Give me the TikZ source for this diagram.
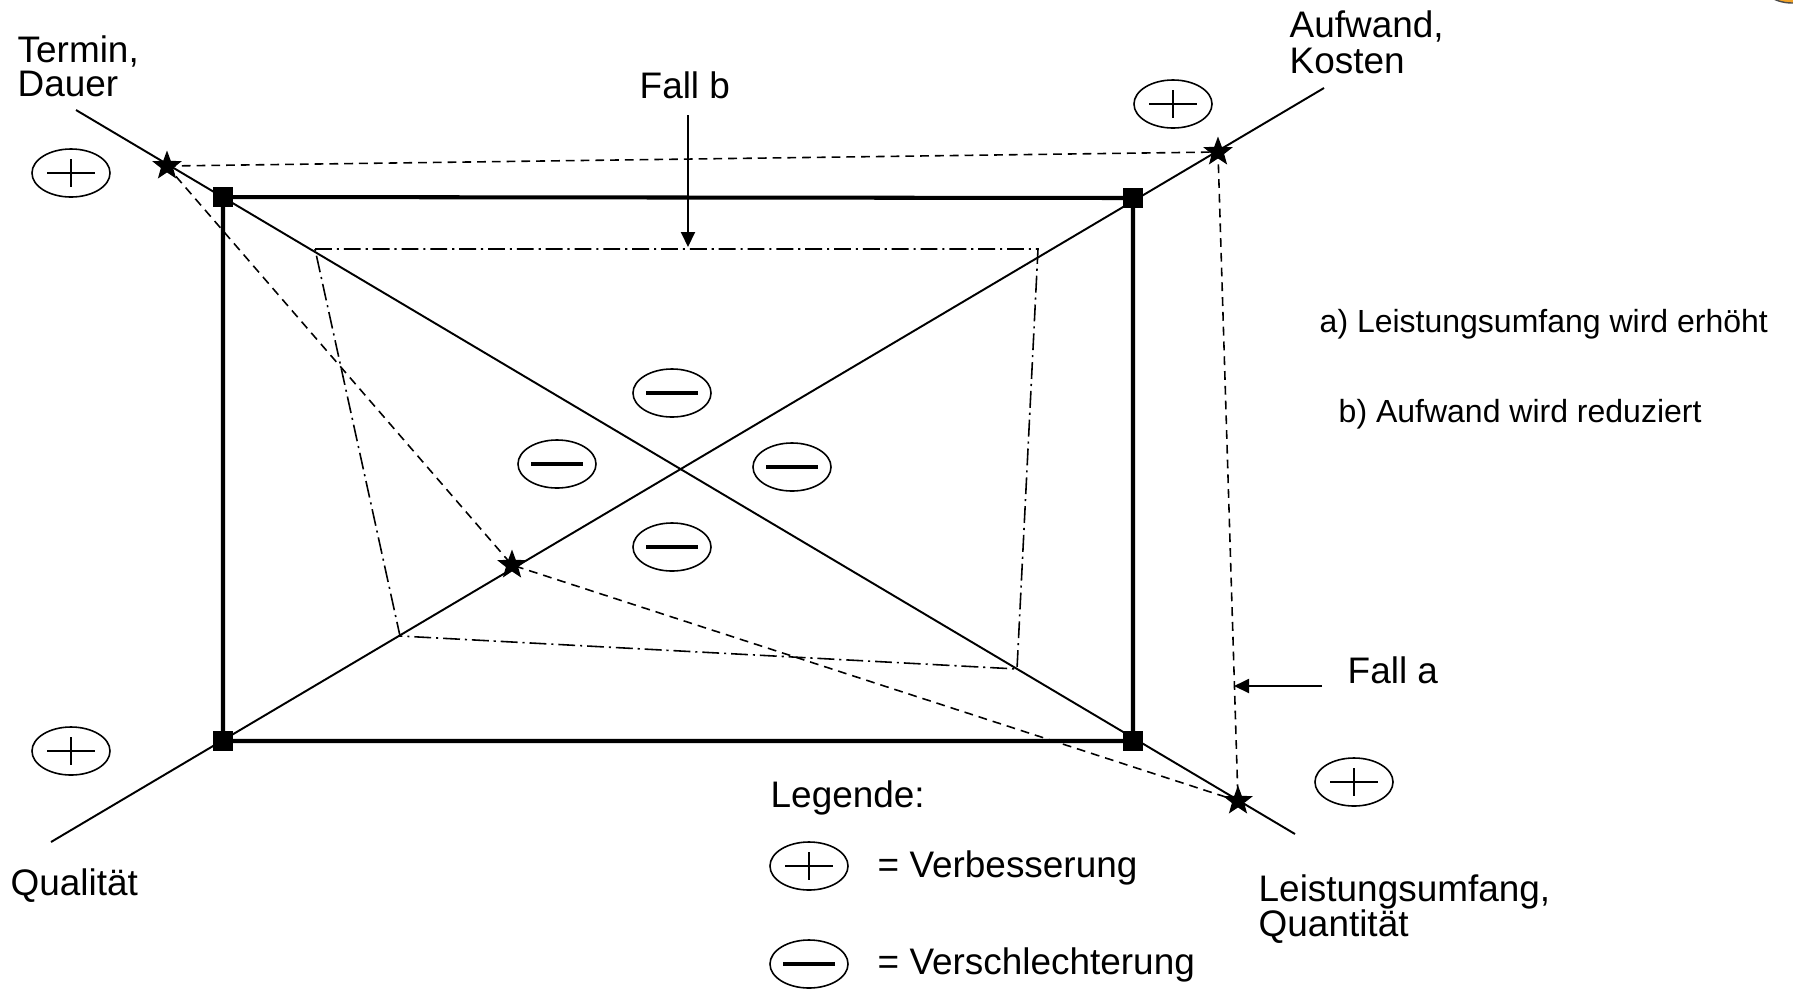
\documentclass[tikz,border=0pt]{standalone}
\usepackage{fontspec}
\setmainfont{Liberation Sans}
\usetikzlibrary{calc}
\usetikzlibrary{arrows.meta}
\usetikzlibrary{positioning}
\usetikzlibrary{shapes.geometric}
\definecolor{sunflower}{RGB}{243, 164, 40}

\tikzset{
  lbl/.style={anchor=base west, inner sep=0pt, font=\fontsize{10.5}{10}\selectfont},
  note/.style={anchor=base west, inner sep=0pt, font=\fontsize{9.1}{9}\selectfont},
  corner/.style={fill=black, minimum size=0.2cm, inner sep=0pt},
  pstar/.style={star, star points=5, star point ratio=2.4, fill=black, minimum size=0.31cm, inner sep=0pt},
  sign/.style={draw, ellipse, line width=0.45pt, minimum width=0.78cm, minimum height=0.48cm, inner sep=0pt},
  better/.style={sign, path picture={\draw[line width=0.4pt] ($(path picture bounding box.center)+(-24,0)$) -- ++(48,0)
                                       ($(path picture bounding box.center)+(0,-14)$) -- ++(0,28);}},
  worse/.style={sign, path picture={\draw[line width=1.2pt] ($(path picture bounding box.center)+(-26,0)$) -- ++(52,0);}},
  axis/.style={line width=0.55pt},
  frame/.style={line width=1.15pt},
  dashline/.style={line width=0.45pt, dash pattern=on 2.5pt off 1.7pt},
  dotline/.style={line width=0.45pt, dash pattern=on 4.8pt off 1.4pt on 0.6pt off 1.4pt},
  pointer/.style={line width=0.55pt, -{Triangle[length=0.15cm, width=0.14cm]}},
}

\begin{document}
\begin{tikzpicture}[x=0.01cm, y=-0.01cm]
            \useasboundingbox (0,0) rectangle (1793,990);
            \filldraw[draw=black!70, fill=sunflower] (1792,-26) ellipse (36 and 29);
            % axes
            \coordinate (tA) at (76,110);
            \coordinate (lE) at (1295,834);
            \coordinate (qA) at (51,842);
            \coordinate (kE) at (1324,88);
            \draw[axis] (tA) -- (lE);
            \draw[axis] (qA) -- (kE);
            % frame
            \node[corner] (ctl) at ( 223,197) {};
            \node[corner] (ctr) at (1133,198) {};
            \node[corner] (cbr) at (1133,741) {};
            \node[corner] (cbl) at ( 223,741) {};
            \draw[frame] (ctl.center) -- (ctr.center) -- (cbr.center) -- (cbl.center) -- cycle;
            % Fall b
            \coordinate (bA) at ( 315,249);
            \coordinate (bB) at (1038,249);
            \coordinate (bC) at (1017,669);
            \coordinate (bD) at ( 400,636);
            \draw[dotline] (bA) -- (bB) -- (bC) -- (bD) -- cycle;
            % Fall a
            \node[pstar] (s1) at ( 167,166) {};
            \node[pstar] (s2) at (1218,152) {};
            \node[pstar] (s4) at (1238,801) {};
            \node[pstar] (s3) at ( 512,565) {};
            \draw[dashline] (s1.center) -- (s2.center) -- (s4.center) -- (s3.center) -- (s1.center);
            % pointers
            \coordinate (fb)  at ( 688,115);
            \coordinate (fbT) at ( 688,247);
            \draw[pointer] (fb) -- (fbT);
            \coordinate (fa)  at (1322,686);
            \coordinate (faT) at (1234,686);
            \draw[pointer] (fa) -- (faT);
            % plus / minus
            \node[better] (pT) at (  71,173) {};
            \node[better] (pQ) at (  71,751) {};
            \node[better] (pK) at (1173,104) {};
            \node[better] (pL) at (1354,782) {};
            \node[worse]  (mN) at ( 672,393) {};
            \node[worse]  (mW) at ( 557,464) {};
            \node[worse]  (mE) at ( 792,467) {};
            \node[worse]  (mS) at ( 672,547) {};
            % labels
            \node[lbl] (t1) at (  17, 62) {Termin,};
            \node[lbl] (t2) at (  17, 96) {Dauer};
            \node[lbl] (k1) at (1289, 37) {Aufwand,};
            \node[lbl] (k2) at (1289, 73) {Kosten};
            \node[lbl] (ql) at (  10,895) {Qualität};
            \node[lbl] (l1) at (1258,901) {Leistungsumfang,};
            \node[lbl] (l2) at (1258,936) {Quantität};
            \node[lbl] (fbl) at ( 639, 98) {Fall b};
            \node[lbl] (fal) at (1347,683) {Fall a};
            \node[note] (na) at (1319,332) {a) Leistungsumfang wird erhöht};
            \node[note] (nb) at (1338,422) {b) Aufwand wird reduziert};
            % legend
            \node[lbl] (lg) at (770,807) {Legende:};
            \node[better] (lp) at (809,866) {};
            \node[lbl] (lv) at (877,877) {= Verbesserung};
            \node[worse]  (lm) at (809,964) {};
            \node[lbl] (ls) at (877,974) {= Verschlechterung};
        \end{tikzpicture}
\end{document}
